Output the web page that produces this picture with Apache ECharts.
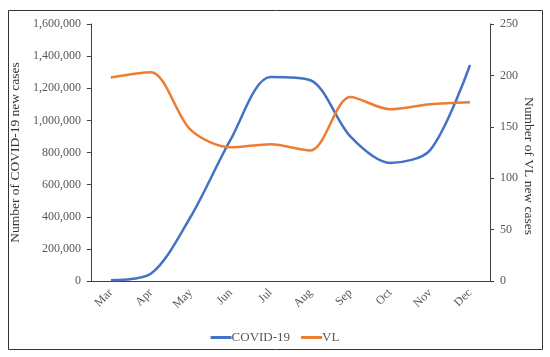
<!DOCTYPE html>
<html><head><meta charset="utf-8">
<script src="https://cdn.jsdelivr.net/npm/echarts@6/dist/echarts.min.js"></script>
<style>html,body{margin:0;padding:0;background:#fff}#c{width:550px;height:357px}</style>
</head><body><div id="c"></div>
<script>
const categories = ['Mar','Apr','May','Jun','Jul','Aug','Sep','Oct','Nov','Dec'];
const covid = [5000, 45000, 400000, 880000, 1270000, 1250000, 900000, 735000, 815000, 1345000];
const vl = [198, 203, 147, 130, 133, 127, 179, 167, 172, 174];
const leftTicks = {min: 0, max: 1600000, interval: 200000};
const rightTicks = {min: 0, max: 250, interval: 50};
const leftTitle = 'Number of COVID-19 new cases';
const rightTitle = 'Number of VL new cases';

const font = 'Liberation Serif';
const chart = echarts.init(document.getElementById('c'));
chart.setOption({
  animation: false,
  textStyle: {fontFamily: font},
  graphic: [
    {type: 'rect', shape: {x: 8.5, y: 10.5, width: 534, height: 339}, style: {fill: null, stroke: '#333', lineWidth: 1}},
    {type: 'text', x: 529, y: 166, rotation: -Math.PI / 2,
     style: {text: rightTitle, fill: '#333', font: '13.5px "Liberation Serif"', align: 'center', verticalAlign: 'middle'}}
  ],
  grid: {left: 90, right: 60, top: 24, bottom: 76},
  legend: {
    bottom: 8, left: 'center', itemWidth: 21, itemHeight: 3, itemGap: 11,
    icon: 'rect',
    textStyle: {fontFamily: font, fontSize: 13, color: '#595959', padding: [0,0,0,-5]},
    data: ['COVID-19', 'VL']
  },
  xAxis: {
    type: 'category', data: categories, boundaryGap: true,
    axisLine: {lineStyle: {color: '#404040', width: 1}},
    axisTick: {show: false},
    axisLabel: {rotate: 45, color: '#595959', fontSize: 12, fontFamily: font, margin: 10}
  },
  yAxis: [{
    type: 'value', min: leftTicks.min, max: leftTicks.max, interval: leftTicks.interval,
    name: leftTitle, nameLocation: 'middle', nameGap: 67,
    nameTextStyle: {color: '#333', fontSize: 13.5, fontFamily: font},
    axisLine: {show: true, lineStyle: {color: '#404040'}},
    axisTick: {show: true, length: 4, lineStyle: {color: '#404040'}},
    splitLine: {show: false},
    axisLabel: {color: '#595959', fontSize: 12, fontFamily: font, margin: 10,
      formatter: v => v.toLocaleString('en-US')}
  }, {
    type: 'value', min: rightTicks.min, max: rightTicks.max, interval: rightTicks.interval,
    position: 'right',
    axisLine: {show: true, lineStyle: {color: '#404040'}},
    axisTick: {show: true, length: 4, lineStyle: {color: '#404040'}},
    splitLine: {show: false},
    axisLabel: {color: '#595959', fontSize: 12, fontFamily: font, margin: 10}
  }],
  series: [{
    name: 'COVID-19', type: 'line', data: covid, yAxisIndex: 0, smooth: 0.3,
    showSymbol: false, symbol: 'none', lineStyle: {color: '#4472C4', width: 2.5}, itemStyle: {color: '#4472C4'}
  }, {
    name: 'VL', type: 'line', data: vl, yAxisIndex: 1, smooth: 0.3,
    showSymbol: false, symbol: 'none', lineStyle: {color: '#ED7D31', width: 2.5}, itemStyle: {color: '#ED7D31'}
  }]
});
</script></body></html>
